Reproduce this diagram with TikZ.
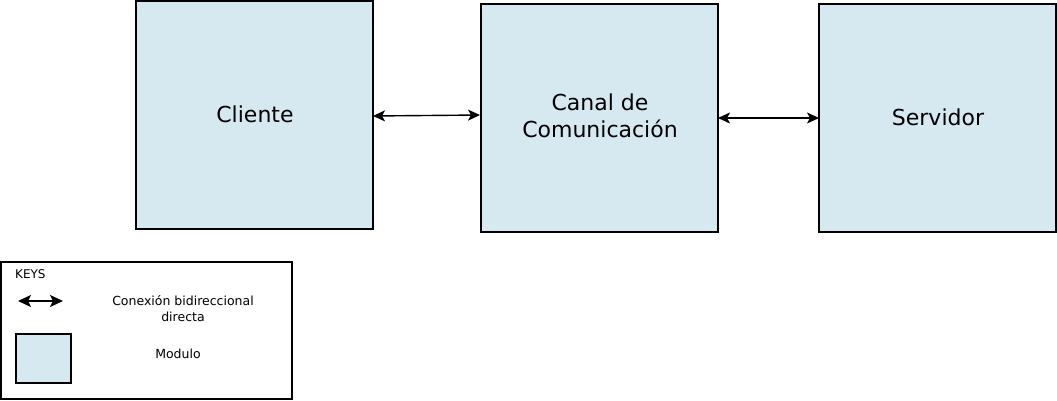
\documentclass[tikz,border=0pt]{standalone}
\usepackage{fontspec}
\setmainfont{DejaVu Sans}
\usetikzlibrary{arrows.meta}
\definecolor{modfill}{RGB}{214,233,240}
\begin{document}
\begin{tikzpicture}[x=1pt,y=-1pt,
  modbox/.style={draw=black,fill=modfill,line width=1.6pt,inner sep=0pt},
  conn/.style={line width=1.4pt,{Stealth[length=12pt,width=11pt,inset=3pt]}-{Stealth[length=12pt,width=11pt,inset=3pt]}},
  bigtxt/.style={font=\fontsize{22}{27}\selectfont,align=center},
  smalltxt/.style={font=\fontsize{12.5}{16}\selectfont,align=center}]
\useasboundingbox (0,0) rectangle (1057,401);
% modules
\node[modbox,minimum width=237pt,minimum height=228pt] (cli) at (254.5,115) {};
\node[modbox,minimum width=237pt,minimum height=228pt] (can) at (599.5,118) {};
\node[modbox,minimum width=237pt,minimum height=228pt] (ser) at (937.5,118) {};
\node[bigtxt] (clit) at (255,114) {Cliente};
\node[bigtxt] (cant) at (600,116) {Canal de\\Comunicación};
\node[bigtxt] (sert) at (938,117) {Servidor};
% connectors
\coordinate (a1) at (373,116);
\coordinate (a2) at (480,115);
\draw[conn] (a1) -- (a2);
\coordinate (b1) at (718,118);
\coordinate (b2) at (819,118);
\draw[conn] (b1) -- (b2);
% legend
\node[draw=black,line width=1.6pt,minimum width=291pt,minimum height=137pt,inner sep=0pt] (leg) at (146.5,330.5) {};
\node[font=\fontsize{12}{14}\selectfont,anchor=west,inner sep=0pt] (keys) at (15,274) {KEYS};
\coordinate (l1) at (18,301);
\coordinate (l2) at (63,301);
\draw[line width=2pt,{Stealth[length=13pt,width=12pt,inset=3pt]}-{Stealth[length=13pt,width=12pt,inset=3pt]}] (l1) -- (l2);
\node[smalltxt] (lt1) at (183,309) {Conexión bidireccional\\directa};
\node[modbox,minimum width=55pt,minimum height=49pt] (lbox) at (43.5,358.5) {};
\node[smalltxt] (lt2) at (178,354) {Modulo};
\end{tikzpicture}
\end{document}
